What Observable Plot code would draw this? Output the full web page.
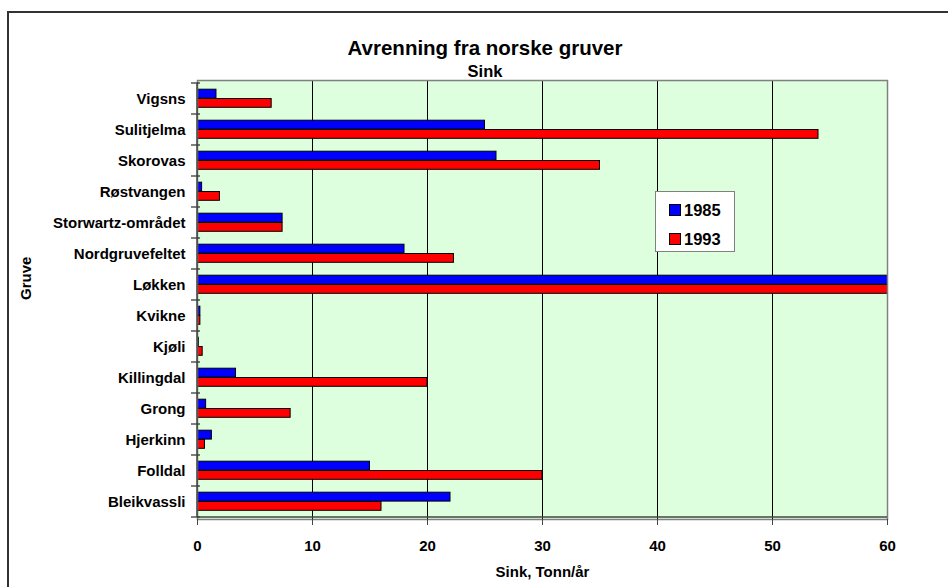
<!DOCTYPE html>
<html><head><meta charset="utf-8">
<script src="https://cdn.jsdelivr.net/npm/d3@7"></script>
<script src="https://cdn.jsdelivr.net/npm/@observablehq/plot@0.6"></script>
<style>
html,body{margin:0;padding:0;background:#fff;}
#wrap{position:relative;width:948px;height:587px;overflow:hidden;font-family:"Liberation Sans",Arial,sans-serif;font-weight:bold;color:#000;}
#border{position:absolute;left:7px;top:11px;width:1000px;height:700px;border:2px solid #333;box-sizing:border-box;}
#chart{position:absolute;left:0;top:0;}
.title{position:absolute;left:285px;width:400px;text-align:center;white-space:nowrap;line-height:1;}
#t1{top:38px;font-size:20.5px;}
#t2{top:63px;font-size:16.5px;}
#legend{position:absolute;left:655px;top:191px;width:80px;height:61px;background:#fff;border:1px solid #808080;box-sizing:border-box;}
.li{position:absolute;left:13px;height:18px;display:flex;align-items:center;font-size:16.5px;}
.sw{width:10px;height:10px;border:1px solid #000;margin-right:3px;}
</style></head>
<body>
<div id="wrap">
<div id="border"></div>
<div id="chart"></div>
<div class="title" id="t1">Avrenning fra norske gruver</div>
<div class="title" id="t2">Sink</div>
<div id="legend"></div>
</div>
<script>
const categories = ["Vigsns","Sulitjelma","Skorovas","Røstvangen","Storwartz-området","Nordgruvefeltet","Løkken","Kvikne","Kjøli","Killingdal","Grong","Hjerkinn","Folldal","Bleikvassli"];
const values1985 = [1.65, 25, 26, 0.4, 7.4, 18, 65, 0.25, 0.12, 3.35, 0.75, 1.25, 15, 22];
const values1993 = [6.45, 54, 35, 1.95, 7.4, 22.3, 65, 0.25, 0.45, 20, 8.1, 0.65, 30, 16];
const years = ["1985", "1993"];
const colors = ["#0000ff", "#ff0000"];
const xTicks = [0, 10, 20, 30, 40, 50, 60];
const title = "Avrenning fra norske gruver";
const subtitle = "Sink";
const xLabel = "Sink, Tonn/år";
const yLabel = "Gruve";

const rows85 = categories.map((c, i) => ({cat: c, v: values1985[i]}));
const rows93 = categories.map((c, i) => ({cat: c, v: values1993[i]}));

const chart = Plot.plot({
  width: 948, height: 587,
  marginLeft: 197, marginRight: 61, marginTop: 80, marginBottom: 68,
  style: {fontFamily: "'Liberation Sans', Arial, sans-serif", fontSize: "15px", fontWeight: "bold", color: "#000", background: "transparent", overflow: "visible"},
  x: {domain: [0, 60]},
  y: {domain: categories, padding: 0},
  marks: [
    Plot.frame({fill: "#ddffdd", stroke: null}),
    Plot.ruleX(xTicks.filter(t => t > 0 && t < 60), {stroke: "#000", strokeWidth: 1}),
    Plot.barX(rows85, {y: "cat", x: "v", fill: colors[0], stroke: "#000", strokeWidth: 1, insetTop: 6.2, insetBottom: 15.9, clip: true}),
    Plot.barX(rows93, {y: "cat", x: "v", fill: colors[1], stroke: "#000", strokeWidth: 1, insetTop: 15.5, insetBottom: 6.7, clip: true}),
    Plot.frame({stroke: "#808080", strokeWidth: 1.5}),
    Plot.axisX({ticks: xTicks, tickSize: 6, tickPadding: 15, label: null, stroke: "#444", fontSize: 15, fontWeight: "bold"}),
    Plot.axisY({tickSize: 0, tickPadding: 12, label: null, fontSize: 15, fontWeight: "bold"}),
    Plot.text([xLabel], {frameAnchor: "bottom", dy: 57, fontSize: 15, fontWeight: "bold"}),
    Plot.text([yLabel], {frameAnchor: "left", dx: -171, rotate: -90, fontSize: 15, fontWeight: "bold"})
  ]
});
document.getElementById("chart").appendChild(chart);

// band-boundary ticks on y axis and darker axis lines, using the plot's own scales
const ys = chart.scale("y"), xs = chart.scale("x");
const svg = d3.select(chart);
const bounds = categories.map(c => ys.apply(c)).concat([ys.apply(categories[categories.length - 1]) + ys.bandwidth]);
const x0 = xs.apply(0), x1 = xs.apply(60);
svg.append("g").selectAll("line").data(bounds).join("line")
  .attr("x1", x0 - 6).attr("x2", x0 + 3).attr("y1", d => d).attr("y2", d => d)
  .attr("stroke", "#000").attr("stroke-width", 1);
svg.append("line").attr("x1", x0).attr("x2", x1).attr("y1", bounds[bounds.length - 1]).attr("y2", bounds[bounds.length - 1])
  .attr("stroke", "#444").attr("stroke-width", 1.5);
svg.append("line").attr("x1", x0).attr("x2", x0).attr("y1", bounds[0]).attr("y2", bounds[bounds.length - 1])
  .attr("stroke", "#444").attr("stroke-width", 1.5);

document.getElementById("t1").textContent = title;
document.getElementById("t2").textContent = subtitle;
const legend = document.getElementById("legend");
years.forEach((y, i) => {
  const d = document.createElement("div");
  d.className = "li";
  d.style.top = (i === 0 ? 9 : 38) + "px";
  d.innerHTML = `<span class="sw" style="background:${colors[i]}"></span><span>${y}</span>`;
  legend.appendChild(d);
});
</script>
</body></html>
